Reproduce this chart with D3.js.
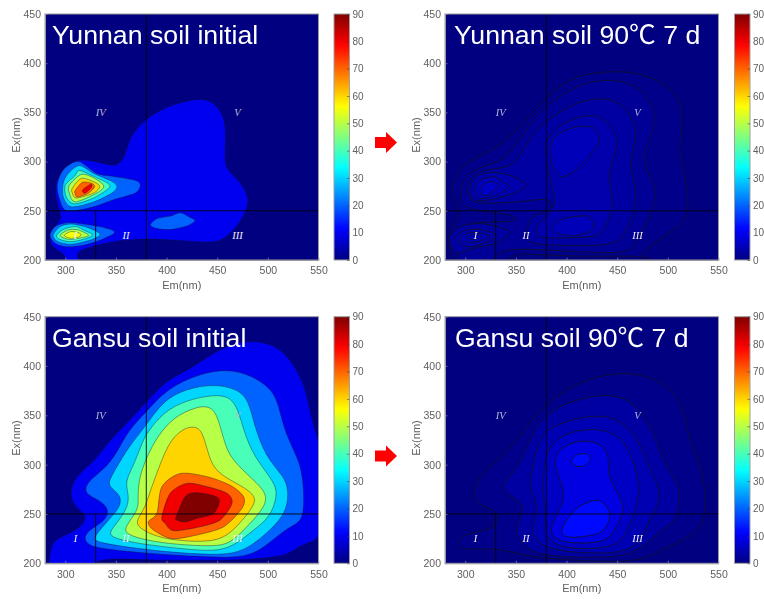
<!DOCTYPE html>
<html><head><meta charset="utf-8">
<script src="https://cdn.jsdelivr.net/npm/d3@7"></script>
<style>
html,body{margin:0;padding:0;background:#fff;}
svg{display:block;filter:blur(0.6px);}
text{font-family:"Liberation Sans",Arial,sans-serif;}
</style></head><body><div id="chart"></div>
<script>
// Axis ticks and labels
const emTicks = [300,350,400,450,500,550];
const exTicks = [200,250,300,350,400,450];
const barTicks = [0,10,20,30,40,50,60,70,80,90];
const regionLabels = [["I",310,225],["II",360,225],["III",470,225],["IV",335,350],["V",470,350]];
const panelTitles = ["Yunnan soil initial","Yunnan soil 90℃ 7 d","Gansu soil initial","Gansu soil 90℃ 7 d"];

// Contour outlines: [Em, Ex] pairs, one outline per level
const yunnanInitialLevels = [10,20,20,20,30,30,40,40,50,50,55,60,70,80];
const yunnanInitialOutlines = [
 [[298.8,195],[298.8,197],[301.4,206],[286.6,212],[283.3,224],[290,234.5],[296.5,242],[294,251],[288,274.5],[296.5,291.5],[311,304],[334.3,299],[351,294],[359,305],[362.4,320],[369,332],[380.5,344],[400,356],[420,361.6],[433,364],[446.5,361],[456.4,347],[459,329],[457,301.6],[459.7,291.5],[469.6,283],[482.8,264],[477.8,247.4],[469.6,234],[458,222],[446.5,217],[420,219.6],[393.7,221],[380.5,221.7],[351,219.6],[331,215],[314.7,210],[311,206],[314,197],[314,195]],
 [[292,274],[298,291.5],[313,300],[331,288],[347,285],[369,281],[374,276],[369,268],[347,261],[328,254],[308,250],[298,252.5]],
 [[285,225],[290,234],[303,238],[318,236.6],[334,234],[346,230.5],[348,227],[334,220],[318,215],[301,213.5],[290,217]],
 [[384,235.6],[390.6,242],[404,244.6],[413.5,248],[421.9,244],[428,240],[420,234.6],[404,231],[390.6,232]],
 [[298,278],[303,288],[314,296],[328,288],[346,280],[351,274.5],[346,268],[328,259],[306,254],[298,264]],
 [[288,225],[295,234],[306,236.6],[319,234],[331,229],[334,225],[324,220],[306,216],[293,218.6]],
 [[300,276],[309,285],[314,291],[328,285],[342,278],[343,273],[328,263],[309,257],[301,264]],
 [[291.5,225],[298,231],[310,234],[319,230],[327,225.4],[318,221],[305,218.6],[294.5,221]],
 [[304,276],[316,287],[329,283],[338,275],[331,268],[310,259],[304,268]],
 [[295,225],[303,230.5],[313,230.5],[323,225],[313,222],[303,221]],
 [[299,225],[306,229],[314.6,227],[314.6,224],[306,222]],
 [[307,273],[316,283],[329,279],[334,274.5],[328,268],[311,263],[307,268]],
 [[310,271],[317,279],[326,278],[329,274.5],[323,268],[312,264],[309.5,268]],
 [[317,271],[325,277],[326,274],[319.6,268]]
];

const yunnanHeatedLevels = [1,2,3,3,4,4,4,5,5,5,5,6,6,0];
const yunnanHeatedOutlines = [
 [[289,195],[289,197],[284,213.5],[283,225],[289,237],[295,247],[289.9,261],[286.6,274.5],[293,291.5],[308,303],[328,312],[343,324],[357.5,339],[380.5,366],[403.6,385],[426.7,390.5],[459.7,392.4],[482.8,386],[502.6,374.5],[514,359],[514,335.5],[510.8,312],[514,295],[519,274.5],[520.7,250],[514,237],[495.7,224],[476,210],[469.6,197],[469.6,195]],
 [[286.6,222],[293,234],[314.6,239],[347.6,238.3],[351.5,242.4],[346,245.7],[327.8,248.4],[298,252.5],[294.8,264],[298,284.7],[311,293],[328,298],[341,305],[354,322],[364,339],[380.5,357.5],[407,376],[430,383],[453,383],[473,374.5],[486,356],[488,335.5],[476,312],[476,295],[491,271],[483,247],[469.6,220],[461,208.5],[446.5,206.8],[380.5,210],[341,212],[329.5,205],[326,197],[326,195],[295,195],[295,197],[290,210]],
 [[302,264],[302,281],[314.6,291],[334,293],[349,296.6],[360.8,318.6],[370.7,334],[393.7,352],[416.8,362.6],[440,365],[456.4,357.5],[468,339],[468,318.6],[461,298],[469.6,271],[466,247],[456.4,223.7],[446.5,214],[380.5,215],[360.8,217],[360.8,230.5],[364,244],[377,247.4],[384,252.5],[387,259],[377,262.7],[354,259],[328,257.6],[308,257.6]],
 [[284,223],[295,234],[314.6,237],[337.7,232],[342.6,226],[329.5,217],[308,212],[291.5,206.8],[286.6,213.5]],
 [[380.5,301.6],[377,318.6],[390.5,335.5],[407,344],[426.7,349],[443,339],[451.4,322],[446.5,305],[440,284.7],[446.5,261],[443,244],[435,227],[426.7,223],[380.5,222],[369,223.7],[370.7,237],[384,247.4],[390.5,261],[384,278]],
 [[304.7,273],[311,284.7],[328,289],[347.6,284.7],[359,276],[347.6,268],[324.5,261],[308,261.7]],
 [[290,223],[301.4,230.5],[318,230.5],[331,224.4],[318,217],[301.4,213.5]],
 [[384,315],[390.5,327],[410,335.5],[426.7,334],[432,322],[423.4,306.7],[407,290],[393.7,284.7],[385.5,298]],
 [[385.5,234],[397,242],[420,244.7],[426,237],[423,229],[407,224.7],[391,227]],
 [[309.7,273],[314.6,281],[327.8,284.7],[339,278],[342.6,274.5],[331,266],[314.6,262.7]],
 [[295,223],[306,228],[321,226],[324.5,223.7],[311.6,218.6],[300,218.6]],
 [[315,273],[323,279.6],[332.7,276],[323,266],[316,267]],
 [[300.8,223],[309.7,226.4],[316,223.7],[308,221]],
 [[348.6,197],[349,205],[357.5,206],[413.5,204],[473,203.4],[474.5,197]]
];

const gansuInitialLevels = [10,20,30,40,50,60,70,80,90];
const gansuInitialOutlines = [
 [[284,195],[284,197],[285.6,218.6],[293,226],[313,233.8],[321,245.6],[318,250.7],[306.4,261],[304.7,274],[311,289.5],[329,303],[341,321.6],[360.8,342],[380.5,364],[400,386],[420,395],[440,409],[466,424.6],[496,425.6],[515,416],[529,396],[539,372],[544,338.5],[556,312],[556,224],[540,222],[525.6,213.5],[515.7,206.8],[476,203.4],[440,203],[381,203],[354,205],[330,203],[325,197],[325,195]],
 [[318,271],[322,283],[338,294.6],[351,311.5],[362,335],[380.5,353.7],[400,377],[433,392.5],[460,397],[483,391],[504,377],[511,359],[517,332],[529,308],[535,288],[536,250.7],[530.6,240.5],[515.7,233.8],[496,215],[474.5,205],[433,206.8],[380.5,210],[334,215],[323,218.6],[318,225],[323,233.8],[341,244],[343,255.7],[334,264]],
 [[341.7,281],[349,294.6],[362.4,318],[379,338.5],[397,365.5],[420,377],[446.5,381.7],[469.6,377],[481,365.5],[486,342],[497.6,308],[516,288],[520.7,274],[518.4,250.7],[499,230],[476,211.8],[453,208.4],[420,210],[380.5,213.5],[331,221],[327.8,225.3],[333,232],[342.6,244],[353.5,255.7],[355.8,267.6],[346,276]],
 [[359,282.8],[367,298],[377,325],[380.5,331.7],[397,353.7],[420,365.5],[446.5,371],[463,369],[471,355],[476,335],[486,308],[507.7,281],[509,267.6],[502.5,247],[486,233.8],[466,217],[446.5,211.8],[413.5,215],[380.5,218.6],[347.6,225],[342.6,231],[351,240.5],[362.4,257.4],[362.4,271]],
 [[372,264],[372,284.5],[380.5,308],[390.5,328],[407,348.6],[430,358.8],[441.7,359.4],[449.8,352],[456.4,325],[463,306],[486,284.5],[499,271],[497.6,257.4],[479.5,237],[463,220],[446.5,217],[410,219],[380.5,223],[359,229.7],[359,237],[372,254]],
 [[370.7,244],[379,257.4],[382,267.7],[393.7,301],[403.6,325],[416.8,336.8],[426.7,339],[435.6,335],[441.5,308],[449.8,291],[476,277.7],[488.4,267.6],[486,257.4],[469.6,237],[453,222],[420,222],[390.5,226],[370.7,237]],
 [[382,242],[390.5,250.7],[395.4,277.7],[413.5,291],[440,287.8],[463,279],[476,267.6],[474.5,255.7],[456.4,237],[430,228.7],[405,225],[387,233.8]],
 [[395.4,247],[403.6,271],[420,281],[440,277.7],[459.7,271],[464.6,260.8],[453,243.9],[433,237],[407,233],[398.6,240.5]],
 [[409.6,247],[418.6,267.6],[430,271.6],[451.4,265.9],[446.5,250.7],[430,245.6],[418.6,242],[410,244]]
];

const gansuHeatedLevels = [1,3,4.5,6,8.5,12,12];
const gansuHeatedOutlines = [
 [[291,220],[298,229.7],[321,233],[332.7,240.5],[332.7,250.7],[321,257.4],[310.7,260.8],[309,274],[314.6,291],[339,309.8],[357.5,335],[380.5,362],[403.6,379],[430,389.8],[459.7,394],[489,387.5],[509,370.6],[515.7,352],[524,314.9],[535.5,291],[538,250.7],[530.6,233.8],[515.7,223.6],[492.7,213.5],[473,201.7],[426.7,201.7],[364,206],[341,213.5],[319.6,215],[298,213.5]],
 [[334.4,277.7],[346,289.5],[357.5,308],[370.7,342],[390.5,358.8],[420,369],[443,371],[463,365.5],[476,348.6],[489,325],[495.7,301],[510.8,281],[512,260.8],[506,240.5],[492.7,233.8],[466,206.8],[426.7,206],[370.7,206.8],[354.2,222],[349,232],[356.8,250.7],[355.8,262.5],[344,267.6]],
 [[361.8,279.4],[367.4,298],[372.3,328],[390.5,341.9],[423.4,350],[446.5,348.6],[466,333.4],[474.5,314.9],[486,287.8],[494.3,267.6],[484,247.3],[476,230.4],[464.6,210],[413.5,210],[377,215],[364,230.4],[370.7,247.3],[370.7,264.2]],
 [[377,264],[377,291],[380.5,318],[400,333],[426.7,336.8],[446.5,333],[461.3,318],[469.6,291],[473,267.6],[461.3,237],[453,216.9],[413.5,213.5],[384,218.6],[377,237],[380.5,250.7]],
 [[385.5,240.5],[396.4,260.8],[398.7,274],[387,298],[390.5,314.9],[410,325],[433,323.3],[443,308],[440,287.8],[453,267.6],[458,250.7],[446.5,233.8],[440,220],[393.7,220],[384,230.4]],
 [[396.4,237],[410,255.7],[430,264],[441.5,254],[441.5,242],[431.6,230.4],[407,226.3],[397,228.7]],
 [[405,303.7],[410,310],[420,310.8],[423.4,304.7],[416.8,298.6],[408.6,298.6]]
];

// Colour scale stops of the bar (jet)
const jetStops = [0,11.25,33.75,56.25,78.75,90];
const jetColors = ["#000080","#0000ff","#00ffff","#ffff00","#ff0000","#800000"];

const panels = [
 {x0:45, x1:318.5,y0:14, y1:260, bar:334, title:panelTitles[0], tx:52, ty:44, fs:26.7, levels:yunnanInitialLevels, outlines:yunnanInitialOutlines, lw:0.6, lo:0.65},
 {x0:445,x1:718.5,y0:14, y1:260, bar:734.5,title:panelTitles[1], tx:454,ty:43.5, fs:26.7, levels:yunnanHeatedLevels, outlines:yunnanHeatedOutlines, lw:1, lo:0.85},
 {x0:45, x1:318.5,y0:316.7,y1:563.3,bar:334, title:panelTitles[2], tx:52, ty:347, fs:26.7, levels:gansuInitialLevels, outlines:gansuInitialOutlines, lw:0.6, lo:0.65},
 {x0:445,x1:718.5,y0:316.7,y1:563.3,bar:734.5,title:panelTitles[3], tx:455,ty:347, fs:26.6, levels:gansuHeatedLevels, outlines:gansuHeatedOutlines, lw:1, lo:0.85}
];
const arrowsY = [142.5,456];

const svg = d3.select("#chart").append("svg").attr("width",764).attr("height",599);
const jet = d3.scaleLinear().domain(jetStops).range(jetColors).clamp(true);
const grad = svg.append("defs").append("linearGradient").attr("id","jet").attr("x1",0).attr("x2",0).attr("y1",1).attr("y2",0);
d3.range(0,90.01,2).forEach(v=>grad.append("stop").attr("offset",v/90).attr("stop-color",jet(v)));

panels.forEach((p,i)=>{
  const x = d3.scaleLinear().domain([280,550]).range([p.x0,p.x1]);
  const y = d3.scaleLinear().domain([200,450]).range([p.y1,p.y0]);
  // long outlines take a B-spline (evens out reading error); short rings keep their points
  const longLine = d3.line().x(d=>x(d[0])).y(d=>y(d[1])).curve(d3.curveBasisClosed);
  const shortLine = d3.line().x(d=>x(d[0])).y(d=>y(d[1])).curve(d3.curveCardinalClosed.tension(0.15));
  const cid = "clip"+i;
  svg.select("defs").append("clipPath").attr("id",cid).append("rect")
    .attr("x",p.x0).attr("y",p.y0).attr("width",p.x1-p.x0).attr("height",p.y1-p.y0);
  const g = svg.append("g");
  g.append("rect").attr("x",p.x0).attr("y",p.y0).attr("width",p.x1-p.x0).attr("height",p.y1-p.y0).attr("fill",jet(0));
  const plot = g.append("g").attr("clip-path",`url(#${cid})`);
  plot.selectAll("path").data(p.outlines).join("path")
    .attr("d",d=>d.length>=14?longLine(d):shortLine(d))
    .attr("fill",(d,k)=>jet(p.levels[k]))
    .attr("stroke","#101030").attr("stroke-opacity",p.lo).attr("stroke-width",p.lw);
  // region dividers
  const rules = [[380,200,380,450],[280,250,550,250],[330,200,330,250]];
  plot.selectAll("line").data(rules).join("line")
    .attr("x1",d=>x(d[0])).attr("y1",d=>y(d[1])).attr("x2",d=>x(d[2])).attr("y2",d=>y(d[3]))
    .attr("stroke","#000010").attr("stroke-width",0.9);
  // region labels
  g.selectAll("text.region").data(regionLabels).join("text").attr("class","region")
    .attr("x",d=>x(d[1])).attr("y",d=>y(d[2])).attr("dy","0.35em").attr("text-anchor","middle")
    .style("font-family","'Liberation Serif',serif").style("font-style","italic").style("font-size","10.5px")
    .attr("fill",d=>(d[0]==="IV"||d[0]==="V")?"#b8b8d8":"#f2f2fa").text(d=>d[0]);
  // axes
  const xa = d3.axisBottom(x).tickValues(emTicks).tickSizeInner(-2.5).tickSizeOuter(0).tickPadding(7);
  const ya = d3.axisLeft(y).tickValues(exTicks).tickSizeInner(-2.5).tickSizeOuter(0).tickPadding(4);
  const ax = g.append("g").attr("transform",`translate(0,${p.y1})`).call(xa);
  const ay = g.append("g").attr("transform",`translate(${p.x0},0)`).call(ya);
  [ax,ay].forEach(a=>{
    a.selectAll("text").style("font-size","10.5px").attr("fill","#606060");
    a.selectAll("line").attr("stroke","#8a8a9a").attr("stroke-width",0.7);
    a.select(".domain").attr("stroke","#9a9aa0").attr("stroke-width",1);
  });
  g.append("rect").attr("x",p.x0).attr("y",p.y0).attr("width",p.x1-p.x0).attr("height",p.y1-p.y0)
    .attr("fill","none").attr("stroke","#9a9aa0").attr("stroke-width",1);
  g.append("text").attr("x",(p.x0+p.x1)/2).attr("y",p.y1+28.5).attr("text-anchor","middle")
    .style("font-size","11px").attr("fill","#606060").text("Em(nm)");
  g.append("text").attr("transform",`translate(${p.x0-25},${(p.y0+p.y1)/2-2}) rotate(-90)`).attr("text-anchor","middle")
    .style("font-size","11px").attr("fill","#606060").text("Ex(nm)");
  // title
  g.append("text").attr("x",p.tx).attr("y",p.ty).attr("fill","#fff")
    .style("font-family","'Liberation Sans','Noto Sans CJK SC',sans-serif").style("font-size",p.fs+"px").text(p.title);
  // colour bar
  const by = d3.scaleLinear().domain([0,90]).range([p.y1,p.y0]);
  const bw = 15.5;
  g.append("rect").attr("x",p.bar).attr("y",p.y0).attr("width",bw).attr("height",p.y1-p.y0)
    .attr("fill","url(#jet)").attr("stroke","#a0a0a0").attr("stroke-width",1);
  const ba = d3.axisRight(by).tickValues(barTicks).tickSizeInner(-2.5).tickSizeOuter(0).tickPadding(3);
  const bg = g.append("g").attr("transform",`translate(${p.bar+bw},0)`).call(ba);
  bg.select(".domain").remove();
  bg.selectAll("line").attr("stroke","#444").attr("stroke-width",0.6);
  bg.selectAll("text").style("font-size","10px").attr("fill","#606060");
});

// red arrows between the panels
const arrow = d3.line().x(d=>375+d[0]).y(d=>d[1]);
arrowsY.forEach(ay=>{
  svg.append("path").attr("d",arrow([[0,ay-5.5],[11,ay-5.5],[11,ay-10.5],[22,ay],[11,ay+10.5],[11,ay+5.5],[0,ay+5.5]])+"Z").attr("fill","#ff0000");
});
</script></body></html>
